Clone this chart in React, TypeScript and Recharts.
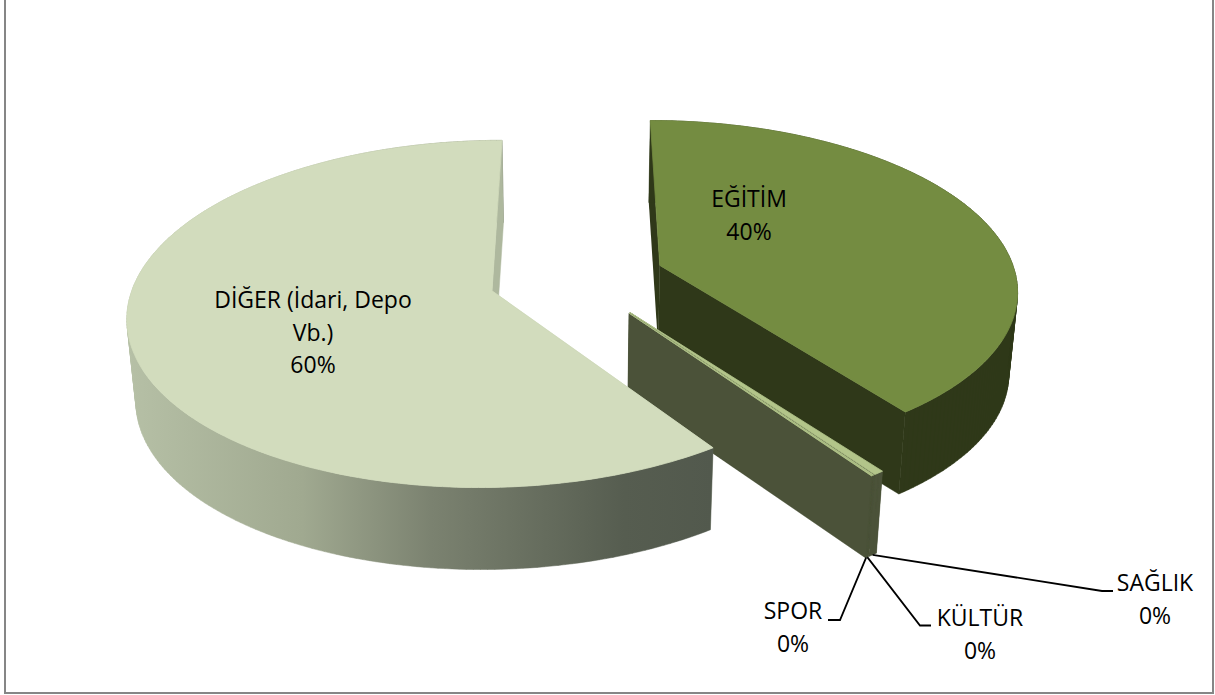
import { Pie, PieChart } from "recharts"

const categories = ["EĞİTİM", "SAĞLIK", "KÜLTÜR", "SPOR", "DİĞER (İdari, Depo Vb.)"]
const shares = [39.8, 0.4, 0.05, 0.05, 59.7]

const chartData = categories.map((name, i) => ({ name, value: shares[i] }))

// top face, side wall and cut face per slice
const sliceColors: Record<string, { top: string; wall: string; cut: string }> = {
  "EĞİTİM": { top: "#748c41", wall: "#2f3819", cut: "#2f3819" },
  "SAĞLIK": { top: "#b3c58a", wall: "#4b5239", cut: "#4b5239" },
  "KÜLTÜR": { top: "#b3c58a", wall: "#4b5239", cut: "#4b5239" },
  "SPOR": { top: "#b3c58a", wall: "#4b5239", cut: "#4b5239" },
  "DİĞER (İdari, Depo Vb.)": { top: "#d2dcbd", wall: "url(#digerWall)", cut: "#aeb89e" },
}

// where each label sits, and the bend of its leader line
const labelLayout: Record<string, { x: number; y: number; lines: string[]; bend?: [number, number][] }> = {
  "EĞİTİM": { x: 749, y: 207, lines: ["EĞİTİM"] },
  "SAĞLIK": { x: 1155, y: 591, lines: ["SAĞLIK"], bend: [[1102, 591], [1113, 591]] },
  "KÜLTÜR": { x: 980, y: 626, lines: ["KÜLTÜR"], bend: [[920, 625.5], [931, 625.5]] },
  "SPOR": { x: 793, y: 619, lines: ["SPOR"], bend: [[840, 620], [828, 620]] },
  "DİĞER (İdari, Depo Vb.)": { x: 313, y: 308, lines: ["DİĞER (İdari, Depo", "Vb.)"] },
}

const PIE_CX = 577
const PIE_CY = 290
const RADIUS = 360
const EXPLODE = 89
const DEPTH = 82
const BASE_SCALE = 0.98
const TILT = 0.473
const PERSPECTIVE = 0.00037
const PLANE_SHIFT = 25

const rad = (deg: number) => (deg * Math.PI) / 180

// plane coordinates (x right, z away from the viewer) to screen
function project(cx: number, cy: number, x: number, z: number) {
  const zw = z + PLANE_SHIFT
  const d = 1 + PERSPECTIVE * zw
  return { x: cx + x / d, y: cy - (TILT * zw) / d }
}

function lowered(cx: number, p: { x: number; y: number }) {
  return { x: cx + (p.x - cx) * BASE_SCALE, y: p.y + DEPTH }
}

function rimPoint(cx: number, cy: number, r: number, mid: number, angle: number) {
  const ax = EXPLODE * Math.sin(rad(mid))
  const az = EXPLODE * Math.cos(rad(mid))
  return project(cx, cy, ax + r * Math.sin(rad(angle)), az + r * Math.cos(rad(angle)))
}

const toPath = (pts: { x: number; y: number }[]) =>
  "M" + pts.map((p) => `${p.x.toFixed(1)},${p.y.toFixed(1)}`).join("L") + "Z"

function Slice3D(props: any) {
  const { cx, cy, outerRadius, startAngle, endAngle, midAngle, name } = props
  const colors = sliceColors[name]
  // recharts angles run counter-clockwise from 3 o'clock
  const from = 90 - startAngle
  const to = 90 - endAngle
  const mid = 90 - midAngle

  const rim: { x: number; y: number }[] = []
  const steps = Math.max(2, Math.ceil(to - from))
  for (let i = 0; i <= steps; i++) {
    rim.push(rimPoint(cx, cy, outerRadius, mid, from + ((to - from) * i) / steps))
  }
  const apex = rimPoint(cx, cy, 0, mid, 0)
  const rimLow = rim.map((p) => lowered(cx, p))
  const apexLow = lowered(cx, apex)

  // one quad per step, all wound the same way so overlaps do not cancel out
  const sweep = rim
    .slice(1)
    .map((p, i) =>
      p.x > rim[i].x
        ? toPath([rim[i], p, rimLow[i + 1], rimLow[i]])
        : toPath([p, rim[i], rimLow[i], rimLow[i + 1]]),
    )
    .join("")

  return (
    <g>
      <path d={toPath([apex, rim[0], rimLow[0], apexLow])} fill={colors.cut} />
      <path d={sweep} fill={colors.wall} stroke={colors.wall} strokeWidth={0.5} />
      <path
        d={toPath([apex, rim[steps], rimLow[steps], apexLow])}
        fill={colors.cut}
        stroke={colors.cut}
        strokeWidth={0.5}
      />
      <path d={toPath([apex, ...rim])} fill={colors.top} stroke={colors.top} strokeWidth={0.8} />
    </g>
  )
}

function SliceLabel(props: any) {
  const { cx, cy, outerRadius, midAngle, name, percent } = props
  const layout = labelLayout[name]
  const mid = 90 - midAngle
  const lines = [...layout.lines, `${Math.round(percent * 100)}%`]
  const start = lowered(cx, rimPoint(cx, cy, outerRadius, mid, mid))
  return (
    <g>
      {layout.bend && (
        <polyline
          points={[[start.x, start.y], ...layout.bend].map((p) => p.join(",")).join(" ")}
          fill="none"
          stroke="#000"
          strokeWidth={1.8}
        />
      )}
      <text x={layout.x} y={layout.y} textAnchor="middle" fontFamily="Open Sans" fontSize={23} fill="#000">
        {lines.map((line, i) => (
          <tspan key={line} x={layout.x} dy={i === 0 ? 0 : 32.5}>
            {line}
          </tspan>
        ))}
      </text>
    </g>
  )
}

export default function App() {
  return (
    <div style={{ position: "absolute", left: 0, top: 0, width: 1215, height: 695, overflow: "hidden", background: "#fff" }}>
      <div
        style={{
          position: "absolute",
          left: 4,
          top: -4,
          width: 1206,
          height: 694,
          border: "2px solid #868686",
        }}
      />
      <div style={{ position: "absolute", left: 0, top: 0 }}>
        <PieChart width={1215} height={695} margin={{ top: 0, right: 0, bottom: 0, left: 0 }}>
          <defs>
            <linearGradient id="digerWall" gradientUnits="userSpaceOnUse" x1="127" y1="0" x2="712" y2="0">
              <stop offset="0%" stopColor="#b6c0a6" />
              <stop offset="30%" stopColor="#a0a990" />
              <stop offset="52%" stopColor="#7b8270" />
              <stop offset="85%" stopColor="#565d50" />
              <stop offset="100%" stopColor="#52594d" />
            </linearGradient>
          </defs>
          <Pie
            data={chartData}
            dataKey="value"
            nameKey="name"
            cx={PIE_CX}
            cy={PIE_CY}
            innerRadius={0}
            outerRadius={RADIUS}
            startAngle={90}
            endAngle={-270}
            stroke="none"
            isAnimationActive={false}
            shape={Slice3D}
            labelLine={false}
            label={SliceLabel}
          />
        </PieChart>
      </div>
    </div>
  )
}
